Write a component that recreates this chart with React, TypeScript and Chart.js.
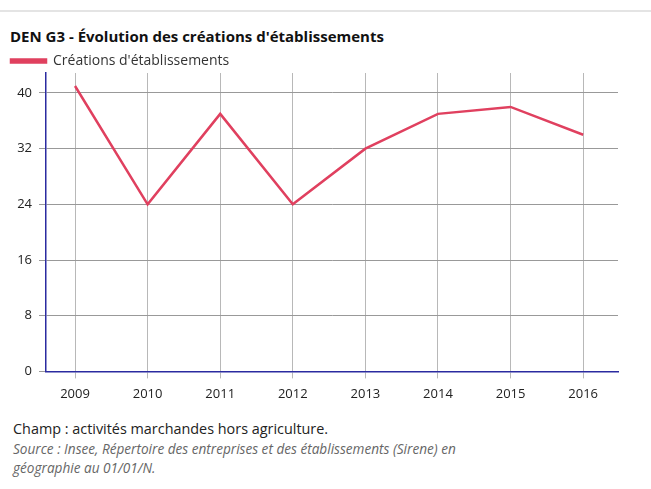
import React, { useEffect, useRef } from "react";
import { Chart, registerables } from "chart.js";

Chart.register(...registerables);

const years = [2009, 2010, 2011, 2012, 2013, 2014, 2015, 2016];
const creations = [41, 24, 37, 24, 32, 37, 38, 34];
const yTicks = [0, 8, 16, 24, 32, 40];
const seriesLabel = "Créations d'établissements";
const title = "DEN G3 - Évolution des créations d'établissements";
const champ = "Champ : activités marchandes hors agriculture.";
const source = "Source : Insee, Répertoire des entreprises et des établissements (Sirene) en géographie au 01/01/N.";

const RED = "#e0405f";
const AXIS = "#2b2ba0";
const GRID_X = "#b8b8b8";
const GRID_Y = "#999999";
const FONT = "'Open Sans', sans-serif";

const legendTweak = {
  id: "legendTweak",
  afterInit(chart: any) {
    const lg = chart.legend;
    if (!lg) return;
    const origFit = lg.fit;
    lg.fit = function () {
      origFit.call(this);
      this.height -= 5;
    };
    const origDraw = lg.draw;
    lg.draw = function (...args: any[]) {
      const c = this.ctx;
      c.save();
      c.translate(4, 0);
      origDraw.apply(this, args);
      c.restore();
    };
  },
};

export default function App() {
  const ref = useRef<HTMLCanvasElement | null>(null);
  useEffect(() => {
    document.body.style.margin = "0";
    const ctx = ref.current!;
    const chart = new Chart(ctx, {
      type: "line",
      data: {
        datasets: [
          {
            label: seriesLabel,
            data: years.map((y, i) => ({ x: y, y: creations[i] })),
            borderColor: RED,
            backgroundColor: RED,
            borderWidth: 2.5,
            pointRadius: 0,
            tension: 0,
          },
        ],
      },
      plugins: [legendTweak],
      options: {
        animation: false,
        responsive: false,
        maintainAspectRatio: false,
        layout: { padding: { left: 0, right: 33, top: 0, bottom: 0 } },
        plugins: {
          legend: {
            position: "top",
            align: "start",
            labels: {
              boxWidth: 35,
              boxHeight: 3,
              color: "#333",
              font: { family: FONT, size: 14 },
              padding: 7,
            },
          },
          title: { display: false },
          tooltip: { enabled: false },
        },
        scales: {
          x: {
            type: "linear",
            min: 2008.6,
            max: 2016.48,
            afterBuildTicks: (axis: any) => {
              axis.ticks = years.map((v) => ({ value: v }));
            },
            ticks: {
              color: "#222",
              font: { family: FONT, size: 13 },
              padding: 8,
              maxRotation: 0,
              callback: (v: any) => String(v),
            },
            grid: { color: GRID_X, lineWidth: 1, tickLength: 7, drawOnChartArea: true },
            border: { color: AXIS, width: 1.5 },
          },
          y: {
            type: "linear",
            min: 0,
            max: 42.87,
            afterBuildTicks: (axis: any) => {
              axis.ticks = yTicks.map((v) => ({ value: v }));
            },
            afterFit: (axis: any) => {
              axis.width = 46;
            },
            ticks: {
              color: "#222",
              font: { family: FONT, size: 13 },
              padding: 7,
            },
            grid: { color: GRID_Y, lineWidth: 1, tickLength: 7 },
            border: { color: AXIS, width: 1.5 },
          },
        },
      },
    });
    return () => chart.destroy();
  }, []);

  return (
    <div style={{ position: "relative", width: 651, height: 489, background: "#fff", fontFamily: FONT }}>
      <div style={{ position: "absolute", left: 0, top: 10, width: 651, borderTop: "2px solid #e4e4e4" }} />
      <div
        style={{
          position: "absolute",
          left: 10,
          top: 26,
          fontSize: 15,
          fontWeight: 700,
          color: "#111",
          whiteSpace: "nowrap",
        }}
      >
        {title}
      </div>
      <canvas
        ref={ref}
        width={651}
        height={363}
        style={{ position: "absolute", left: 0, top: 47, width: 651, height: 363 }}
      />
      <div style={{ position: "absolute", left: 13, top: 419, width: 470, fontSize: 14.4, color: "#222", lineHeight: "19px", whiteSpace: "nowrap" }}>
        {champ}
      </div>
      <div
        style={{
          position: "absolute",
          left: 13,
          top: 439,
          width: 460,
          fontSize: 13.6,
          fontStyle: "italic",
          color: "#666",
          lineHeight: "19px",
        }}
      >
        {source}
      </div>
    </div>
  );
}
